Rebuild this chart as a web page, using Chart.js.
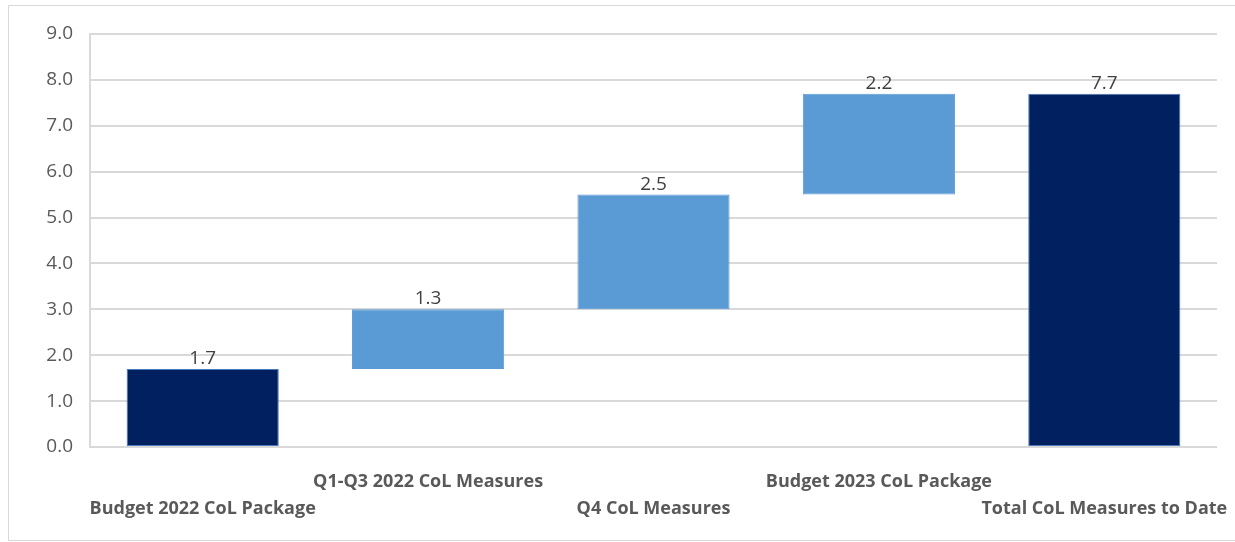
<!DOCTYPE html>
<html>
<head>
<meta charset="utf-8">
<script src="https://cdn.jsdelivr.net/npm/chart.js@4"></script>
<style>
  html, body { margin: 0; padding: 0; background: #fff; overflow: hidden; }
  #wrap { position: relative; width: 1235px; height: 542px; overflow: hidden; }
  #frame { position: absolute; left: 8px; top: 5px; right: 0; height: 534px; border: 1px solid #d9d9d9; border-right: none; }
  #chart { position: absolute; left: 0; top: 0; }
</style>
</head>
<body>
<div id="wrap">
  <div id="frame"></div>
  <canvas id="chart" width="1235" height="542"></canvas>
</div>
<script>
// Cost-of-living measures, € billion
const categories = [
    'Budget 2022 CoL Package',
    'Q1-Q3 2022 CoL Measures',
    'Q4 CoL Measures',
    'Budget 2023 CoL Package',
    'Total CoL Measures to Date'
];
const steps = [1.7, 1.3, 2.5, 2.2];
const total = 7.7;
const yTicks = [0, 1, 2, 3, 4, 5, 6, 7, 8, 9];

const darkBlue = '#002060';
const lightBlue = '#5b9bd5';

// build floating bars: each step starts where the previous one ended
const ranges = [];
const shown = [];
let running = 0;
steps.forEach((v) => {
    ranges.push([running, +(running + v).toFixed(1)]);
    shown.push(v);
    running = +(running + v).toFixed(1);
});
ranges.push([0, total]);
shown.push(total);

const barColors = categories.map((c, i) => (i === 0 || i === categories.length - 1) ? darkBlue : lightBlue);
const borderColors = categories.map((c, i) => (i === 0 || i === categories.length - 1) ? '#4a78b8' : lightBlue);

// alternate labels between two rows so they don't collide
const tickLabels = categories.map((c, i) => i % 2 === 0 ? ['', c] : [c, '']);

const valueLabels = {
    id: 'valueLabels',
    afterDatasetsDraw(chart) {
        const { ctx } = chart;
        const meta = chart.getDatasetMeta(0);
        ctx.save();
        ctx.font = '19px "Open Sans"';
        ctx.fillStyle = '#404040';
        ctx.textAlign = 'center';
        ctx.textBaseline = 'bottom';
        meta.data.forEach((bar, i) => {
            const top = Math.min(bar.y, bar.base);
            ctx.fillText(shown[i].toFixed(1), bar.x, top - 1);
        });
        ctx.restore();
    }
};

new Chart(document.getElementById('chart'), {
    type: 'bar',
    data: {
        labels: tickLabels,
        datasets: [{
            data: ranges,
            backgroundColor: barColors,
            borderColor: borderColors,
            borderWidth: 1,
            borderSkipped: false,
            barPercentage: 0.675,
            categoryPercentage: 1
        }]
    },
    options: {
        responsive: false,
        animation: false,
        layout: { padding: { top: 34, right: 18, left: 0, bottom: 0 } },
        plugins: {
            legend: { display: false },
            tooltip: { enabled: false }
        },
        scales: {
            x: {
                grid: { display: false },
                border: { display: false },
                afterFit(scale) {
                    // fixed axis band; let the outer labels spill into the margins
                    scale.height = 95;
                    scale.paddingLeft = 0;
                    scale.paddingRight = 0;
                },
                ticks: {
                    autoSkip: false,
                    maxRotation: 0,
                    minRotation: 0,
                    padding: 13,
                    color: '#595959',
                    font: { family: '"Open Sans"', size: 18, weight: 'bold', lineHeight: 1.5 }
                }
            },
            y: {
                min: 0,
                max: 9,
                afterFit(scale) { scale.width = 90; },
                afterBuildTicks(scale) { scale.ticks = yTicks.map(v => ({ value: v })); },
                grid: { color: '#d9d9d9', lineWidth: 2, drawTicks: false },
                border: { display: true, color: '#d9d9d9', width: 2 },
                ticks: {
                    padding: 17,
                    color: '#595959',
                    font: { family: '"Open Sans"', size: 19 },
                    callback: (v) => Number(v).toFixed(1)
                }
            }
        }
    },
    plugins: [valueLabels]
});
</script>
</body>
</html>
